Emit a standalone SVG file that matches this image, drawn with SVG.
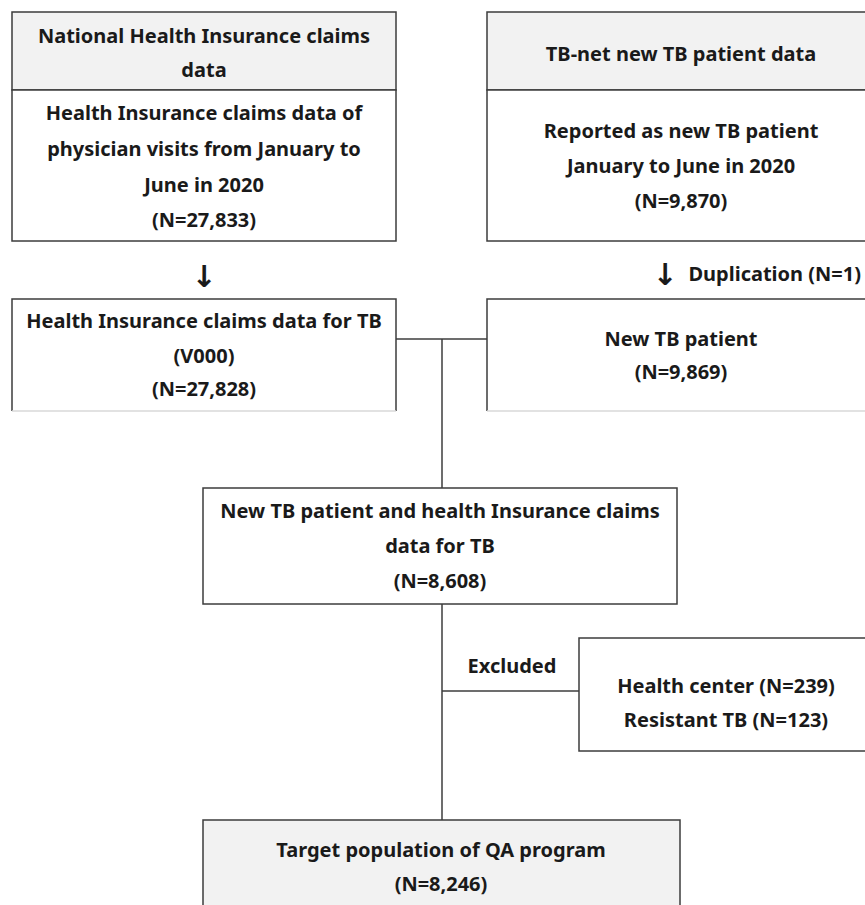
<svg xmlns="http://www.w3.org/2000/svg" width="865" height="905" viewBox="0 0 865 905">
<style>
.box{fill:#ffffff;stroke:#3c3c3c;stroke-width:1.5}
.hdr{fill:#f2f2f2;stroke:#3c3c3c;stroke-width:1.5}
.fade{stroke:#d8d8d8;stroke-width:1.5}
.con{stroke:#3c3c3c;stroke-width:1.5;fill:none}
text{font-family:"Noto Sans","Open Sans","DejaVu Sans",sans-serif;font-weight:bold;font-size:20px;fill:#1a1a1a;text-anchor:middle}
text.arr{font-family:"DejaVu Sans",sans-serif;font-weight:bold;font-size:30px}
</style>
<rect width="865" height="905" fill="#ffffff"/>
<g id="connectors">
<line class="con" x1="396" y1="339" x2="488" y2="339"/>
<line class="con" x1="442" y1="339" x2="442" y2="488"/>
<line class="con" x1="442" y1="604" x2="442" y2="820"/>
<line class="con" x1="442" y1="691" x2="579" y2="691"/>
</g>
<g id="nhi-claims">
<rect class="hdr" x="12" y="12" width="384" height="78"/>
<rect class="box" x="12" y="90" width="384" height="151"/>
<text x="204" y="43">National Health Insurance claims</text>
<text x="204" y="77">data</text>
<text x="204" y="120">Health Insurance claims data of</text>
<text x="204" y="156">physician visits from January to</text>
<text x="204" y="192">June in 2020</text>
<text x="204" y="227">(N=27,833)</text>
</g>
<g id="arrow-left">
<text class="arr" x="204" y="287">↓</text>
</g>
<g id="duplication">
<text class="arr" x="665" y="285">↓</text>
<text x="861" y="281" style="text-anchor:end">Duplication (N=1)</text>
</g>
<g id="tbnet">
<rect class="hdr" x="487" y="12" width="390" height="78"/>
<rect class="box" x="487" y="90" width="390" height="151"/>
<text x="681" y="61">TB-net new TB patient data</text>
<text x="681" y="138">Reported as new TB patient</text>
<text x="681" y="173">January to June in 2020</text>
<text x="681" y="208">(N=9,870)</text>
</g>
<g id="claims-tb">
<path class="box" d="M12 411 V299 H396 V411"/>
<line class="fade" x1="12" y1="411" x2="396" y2="411"/>
<text x="204" y="328">Health Insurance claims data for TB</text>
<text x="204" y="363">(V000)</text>
<text x="204" y="396">(N=27,828)</text>
</g>
<g id="new-tb">
<path class="box" d="M487 411 V299 H877"/>
<line class="fade" x1="487" y1="411" x2="877" y2="411"/>
<text x="681" y="346">New TB patient</text>
<text x="681" y="379">(N=9,869)</text>
</g>
<g id="merged">
<rect class="box" x="203" y="488" width="474" height="116"/>
<text x="440" y="518">New TB patient and health Insurance claims</text>
<text x="440" y="553">data for TB</text>
<text x="440" y="588">(N=8,608)</text>
</g>
<g id="excluded-label">
<text x="512" y="673">Excluded</text>
</g>
<g id="excluded">
<rect class="box" x="579" y="638" width="300" height="113"/>
<text x="726" y="693">Health center (N=239)</text>
<text x="726" y="727">Resistant TB (N=123)</text>
</g>
<g id="target">
<rect class="hdr" x="203" y="820" width="477" height="100"/>
<text x="441" y="857">Target population of QA program</text>
<text x="441" y="891">(N=8,246)</text>
</g>
</svg>
